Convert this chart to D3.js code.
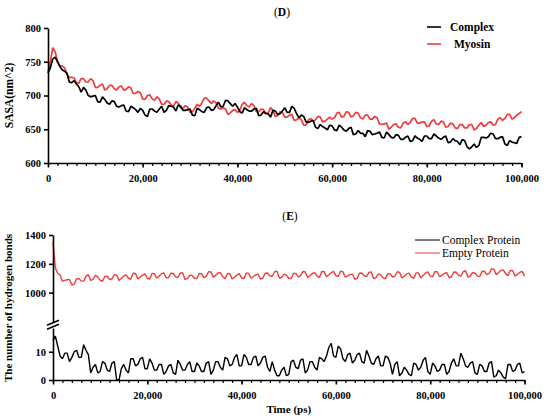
<!DOCTYPE html>
<html>
<head>
<meta charset="utf-8">
<script src="https://cdn.jsdelivr.net/npm/d3@7"></script>
<style>
  body { margin: 0; background: #fff; }
  svg { display: block; }
  .axis path, .axis line { stroke: #000; stroke-width: 1.6; }
  .minor line { stroke-width: 1.2; }
</style>
</head>
<body>
<div id="chart"></div>
<script>
// time axis, one sample every 500 ps
const timePs = d3.range(0, 100001, 500);

// panel D: SASA (nm^2)
const sasaComplex = [
  733,741,754,757,750,743,738,736,733,720,719,722,717,713,705,712,708,700,698,699,
  700,691,690,698,694,689,687,692,691,684,683,685,686,677,676,684,682,679,675,681,
  678,671,669,680,680,677,675,680,684,675,678,685,684,683,677,686,684,678,678,679,
  680,671,670,681,679,676,675,682,683,678,679,685,690,683,684,693,692,688,684,688,
  683,676,674,682,679,677,677,680,681,670,671,676,673,673,668,678,677,672,673,677,
  682,675,675,684,681,673,667,671,669,661,660,662,663,653,651,657,654,652,649,656,
  655,649,648,656,653,649,647,651,653,642,643,648,644,644,639,648,647,642,643,644,
  646,638,637,646,642,638,637,642,641,635,635,638,640,632,633,640,637,635,632,640,
  640,636,636,643,640,637,635,638,640,630,631,636,633,632,627,635,633,624,621,624,
  628,623,626,638,638,637,639,644,643,636,636,638,639,628,626,633,631,630,629,638,639];
const sasaMyosin = [
  735,750,771,765,751,744,744,741,731,727,727,726,719,718,725,725,720,720,725,722,
  712,712,715,717,708,710,715,715,710,708,713,714,708,709,713,711,703,703,706,704,
  695,694,700,701,695,693,698,695,687,687,692,691,686,684,691,689,682,681,685,683,
  675,676,681,687,684,689,696,696,692,688,692,689,681,680,682,680,672,674,678,679,
  675,678,687,690,685,683,688,685,676,676,680,679,674,674,682,678,669,670,676,675,
  668,668,671,672,663,664,667,664,656,656,664,666,662,664,669,668,661,662,665,668,
  665,667,674,675,668,669,676,675,668,670,675,674,667,665,671,671,665,665,669,667,
  658,657,658,659,650,653,657,658,653,652,659,661,657,660,666,666,659,659,661,661,
  654,655,662,664,658,657,662,661,653,654,659,658,652,651,657,657,652,652,657,657,
  649,651,656,660,654,656,660,661,656,657,665,667,663,666,672,672,665,667,671,673,676];

// panel E: number of hydrogen bonds
const hbEmpty = [
  1350,1170,1135,1123,1080,1085,1090,1092,1053,1059,1095,1098,1080,1080,1115,1125,1085,1093,1120,1110,
  1085,1079,1113,1114,1090,1095,1125,1123,1085,1098,1115,1123,1100,1093,1135,1133,1095,1109,1122,1131,
  1100,1094,1133,1132,1100,1115,1130,1137,1103,1104,1135,1133,1110,1105,1135,1139,1092,1097,1122,1119,
  1100,1097,1133,1132,1105,1113,1145,1144,1108,1120,1137,1139,1110,1097,1133,1132,1095,1109,1122,1132,
  1102,1097,1137,1134,1100,1112,1123,1129,1095,1100,1135,1136,1117,1114,1145,1149,1102,1105,1128,1122,
  1100,1097,1133,1134,1110,1116,1147,1144,1105,1117,1133,1139,1115,1106,1147,1146,1110,1124,1138,1148,
  1118,1112,1150,1144,1107,1116,1125,1129,1093,1099,1135,1136,1117,1111,1140,1144,1098,1104,1130,1124,
  1103,1097,1130,1132,1108,1114,1145,1141,1102,1114,1130,1135,1110,1099,1137,1137,1102,1119,1135,1145,
  1115,1109,1147,1144,1110,1122,1133,1139,1105,1109,1143,1142,1120,1115,1145,1152,1108,1114,1140,1135,
  1115,1111,1147,1149,1125,1133,1165,1163,1125,1138,1155,1158,1130,1118,1155,1153,1115,1128,1140,1148,1115];
const hbComplex = [
  14,15.5,12,8.5,7.5,9.5,9.5,6.5,8,10,10.5,8,8,12.5,10.5,9,2.5,4.5,5.5,2.5,
  3,6.5,6,3.5,3,6,6.5,0,0,4,5.5,3.5,2.5,7.5,7.5,5,5.5,7.5,8,4,
  4,7.5,6,3.5,3.5,5.5,5.5,2,3,5,5.5,2.5,2,7,5.5,3.5,3.5,5.5,6.5,3,
  3,6,5,3,3,6,6.5,2,3.5,6.5,6.5,4.5,3.5,8,7.5,5,5.5,8,9,5,
  5,9,8,5.5,5.5,8,8.5,5,6,8,8.5,4.5,3,6.5,3.5,1.5,1.5,3.5,4.5,1.5,
  2,6.5,7,4.5,4,7,7.5,2.5,3.5,6.5,6.5,4.5,3.5,8,7.5,6.5,8.5,11.5,13,8.5,
  8,12,11,7.5,6.5,9,9.5,6,7,9,9.5,6.5,6,10.5,8.5,6,5.5,7.5,8.5,5,
  5,8.5,8,6,2,5.5,6.5,1.5,2.5,4.5,3.5,2,1.5,6,5.5,3.5,4.5,7,8,3,
  2,6,5,3,3.5,5.5,5.5,2,3,6,7.5,5,5,9.5,7.5,5,4.5,6,6.5,2.5,
  2,5.5,5,3,3,6,6.5,1,1.5,3.5,2.5,1,0.5,5.5,5.5,3,3.5,5.5,6,2.5,3];

const xMajor = [0, 20000, 40000, 60000, 80000, 100000];
const xMinor = d3.range(0, 100001, 2000);
const sasaTicks = [600, 650, 700, 750, 800];
const hbUpperTicks = [1000, 1200, 1400];
const hbLowerTicks = [0, 10];

const serif = '"Liberation Serif", "Times New Roman", serif';
const red = '#f03c3c';
const fmt = d3.format(',');

const svg = d3.select('#chart').append('svg')
  .attr('width', 550)
  .attr('height', 419)
  .attr('font-family', serif);

function styleTicks(a) {
  a.attr('font-family', serif).attr('font-size', 10.5);
  a.selectAll('text').attr('font-weight', 'bold').attr('fill', '#000');
}

function timeAxis(g, x, y0) {
  g.append('g')
    .attr('class', 'axis minor')
    .attr('transform', `translate(0,${y0})`)
    .call(d3.axisBottom(x).tickValues(xMinor).tickSize(3).tickFormat(''))
    .call(a => a.select('.domain').remove());
  g.append('g')
    .attr('class', 'axis')
    .attr('transform', `translate(0,${y0})`)
    .call(d3.axisBottom(x).tickValues(xMajor).tickSize(4.5).tickSizeOuter(0).tickFormat(d => fmt(d)))
    .call(styleTicks)
    .call(a => a.selectAll('text').attr('dy', '1.1em'));
}

function valueAxis(g, y, ticks, x0) {
  g.append('g')
    .attr('class', 'axis')
    .attr('transform', `translate(${x0},0)`)
    .call(d3.axisLeft(y).tickValues(ticks).tickSize(4).tickSizeOuter(0).tickFormat(d => d))
    .call(styleTicks)
    .call(a => a.select('.domain').attr('stroke-width', 2));
}

// ---- panel D ----
const xD = d3.scaleLinear().domain([0, 100000]).range([48, 521.5]);
const yD = d3.scaleLinear().domain([600, 800]).range([163, 28]);
const gD = svg.append('g');

const lineD = d3.line().x((d, i) => xD(timePs[i])).y(d => yD(d));
gD.append('path').datum(sasaMyosin)
  .attr('d', lineD).attr('fill', 'none').attr('stroke', red).attr('stroke-width', 1.7)
  .attr('stroke-linejoin', 'bevel');
gD.append('path').datum(sasaComplex)
  .attr('d', lineD).attr('fill', 'none').attr('stroke', '#000').attr('stroke-width', 1.7)
  .attr('stroke-linejoin', 'bevel');

timeAxis(gD, xD, 163);
valueAxis(gD, yD, sasaTicks, 48);

gD.append('text')
  .attr('transform', `translate(13,${yD(700)}) rotate(-90)`)
  .attr('text-anchor', 'middle')
  .attr('font-size', 11.5).attr('font-weight', 'bold')
  .text('SASA(nm^2)');

gD.append('text')
  .attr('x', 282).attr('y', 16)
  .attr('text-anchor', 'middle')
  .attr('font-size', 11.5)
  .html('(<tspan font-weight="bold">D</tspan>)');

const legD = [
  { name: 'Complex', color: '#000', y: 27, x: 450 },
  { name: 'Myosin', color: red, y: 44, x: 454 }
];
const lgD = gD.append('g').selectAll('g').data(legD).join('g')
  .attr('transform', d => `translate(0,${d.y})`);
lgD.append('line')
  .attr('x1', 427).attr('x2', 441).attr('y1', 0).attr('y2', 0)
  .attr('stroke', d => d.color).attr('stroke-width', 1.6);
lgD.append('text')
  .attr('x', d => d.x).attr('y', 4)
  .attr('font-size', 11.5).attr('font-weight', 'bold')
  .text(d => d.name);

// ---- panel E ----
const xE = d3.scaleLinear().domain([0, 100000]).range([53, 524.5]);
const yUp = d3.scaleLinear().domain([800, 1400]).range([321.5, 235]);
const yLo = d3.scaleLinear().domain([0, 18.4]).range([380, 328]);
const gE = svg.append('g');

gE.append('path').datum(hbEmpty)
  .attr('d', d3.line().x((d, i) => xE(timePs[i])).y(d => yUp(d)))
  .attr('fill', 'none').attr('stroke', red).attr('stroke-width', 1.4)
  .attr('stroke-linejoin', 'bevel');
gE.append('path').datum(hbComplex)
  .attr('d', d3.line().x((d, i) => xE(timePs[i])).y(d => yLo(d)))
  .attr('fill', 'none').attr('stroke', '#000').attr('stroke-width', 1.4)
  .attr('stroke-linejoin', 'bevel');

timeAxis(gE, xE, 380);
valueAxis(gE, yUp, hbUpperTicks, 53);
valueAxis(gE, yLo, hbLowerTicks, 53);

// axis break marks
const yBreak = (yUp.range()[0] + yLo.range()[1]) / 2;
gE.append('g').selectAll('line').data([-2, 2]).join('line')
  .attr('x1', 47).attr('x2', 59)
  .attr('y1', d => yBreak + d + 2.5).attr('y2', d => yBreak + d - 2.5)
  .attr('stroke', '#000').attr('stroke-width', 1.5);

gE.append('text')
  .attr('transform', 'translate(12,308) rotate(-90)')
  .attr('text-anchor', 'middle')
  .attr('font-size', 11).attr('font-weight', 'bold')
  .text('The number of hydrogen bonds');

gE.append('text')
  .attr('x', xE(50000)).attr('y', 413)
  .attr('text-anchor', 'middle')
  .attr('font-size', 11).attr('font-weight', 'bold')
  .text('Time (ps)');

gE.append('text')
  .attr('x', 290).attr('y', 220)
  .attr('text-anchor', 'middle')
  .attr('font-size', 11.5)
  .html('(<tspan font-weight="bold">E</tspan>)');

const legE = [
  { name: 'Complex Protein', color: '#000', y: 240 },
  { name: 'Empty Protein', color: red, y: 253 }
];
const lgE = gE.append('g').selectAll('g').data(legE).join('g')
  .attr('transform', d => `translate(0,${d.y})`);
lgE.append('line')
  .attr('x1', 415).attr('x2', 440).attr('y1', 0).attr('y2', 0)
  .attr('stroke', d => d.color).attr('stroke-width', 1);
lgE.append('text')
  .attr('x', 442).attr('y', 4)
  .attr('font-size', 11.5)
  .text(d => d.name);
</script>
</body>
</html>
